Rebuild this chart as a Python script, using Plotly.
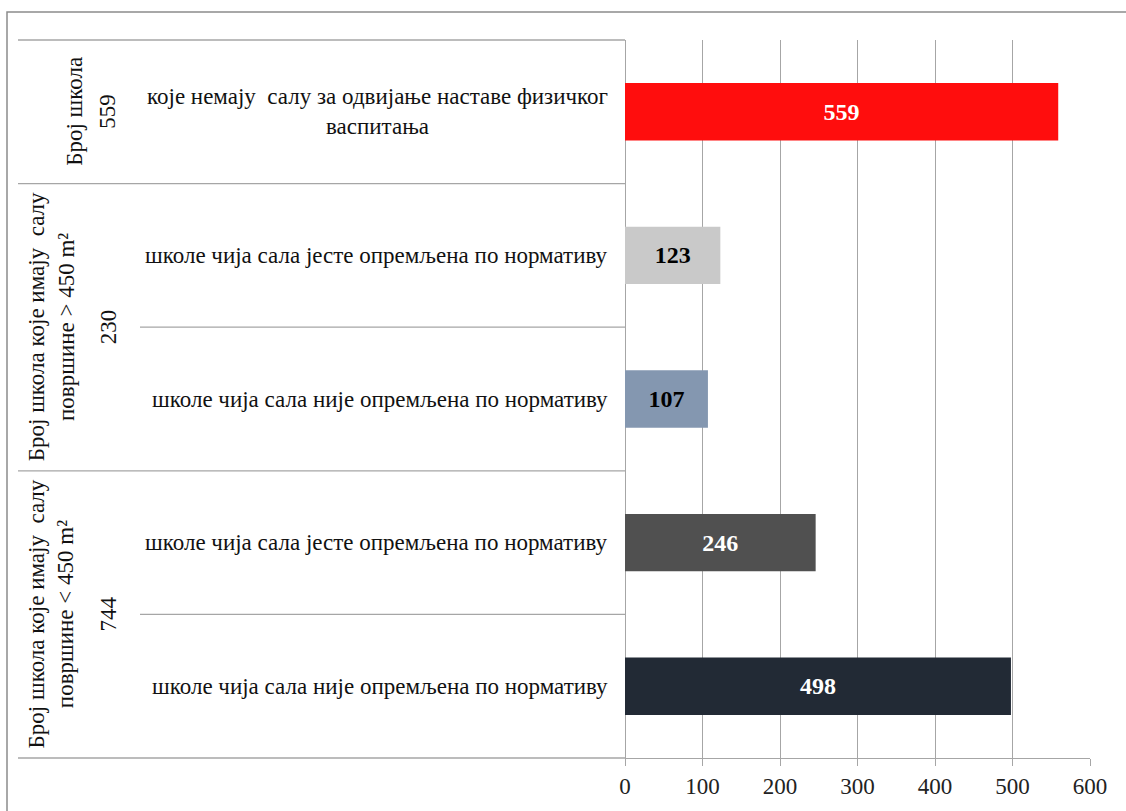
import plotly.graph_objects as go

# data
groups = ["Број школа",
          "Број школа које имају  салу<br>површине &gt; 450 m²",
          "Број школа које имају  салу<br>површине &lt; 450 m²"]
group_totals = [559, 230, 744]
group_sizes = [1, 2, 2]

categories = ["које немају  салу за одвијање наставе физичког<br>васпитања",
              "школе чија сала јесте опремљена по нормативу",
              "школе чија сала није опремљена по нормативу",
              "школе чија сала јесте опремљена по нормативу",
              "школе чија сала није опремљена по нормативу"]
values = [559, 123, 107, 246, 498]
bar_colors = ["#FF0D0D", "#C9C9C9", "#8497B0", "#505050", "#222A35"]
text_colors = ["white", "black", "black", "white", "white"]
x_ticks = [0, 100, 200, 300, 400, 500, 600]

W, H = 1126, 811
L, R, T, B = 625, 36, 40, 51
PW = W - L - R
PH = H - T - B
FONT = "Liberation Serif, Times New Roman, serif"
FS = 23
GRID = "#A6A6A6"


def px(x):
    # pixel x -> paper x
    return (x - L) / PW


def py(y):
    # pixel y -> paper y
    return (H - B - y) / PH


n = len(values)
pos = list(range(n))

fig = go.Figure(go.Bar(
    x=values,
    y=pos,
    orientation='h',
    width=0.4,
    marker=dict(color=bar_colors, line=dict(width=0)),
    text=[f"<b>{v}</b>" for v in values],
    textposition='inside',
    insidetextanchor='middle',
    textangle=0,
    textfont=dict(family=FONT, size=24, color=text_colors),
    hoverinfo='skip',
))

shapes = []
# outer frame
shapes.append(dict(type='rect', xref='paper', yref='paper',
                   x0=px(7), x1=px(1140), y0=py(12), y1=py(830),
                   line=dict(color="#8C8C8C", width=1.5)))

# table lines of the category area
boundaries = [0]
for s in group_sizes:
    start = boundaries[-1]
    for k in range(1, s):
        shapes.append(dict(type='line', xref='paper', yref='paper',
                           x0=px(140), x1=0, y0=1 - (start + k) / n, y1=1 - (start + k) / n,
                           line=dict(color=GRID, width=1.3)))
    boundaries.append(start + s)
for b in boundaries:
    shapes.append(dict(type='line', xref='paper', yref='paper',
                       x0=px(18), x1=0, y0=1 - b / n, y1=1 - b / n,
                       line=dict(color=GRID, width=1.3)))

annotations = []
# category labels
for i, c in enumerate(categories):
    annotations.append(dict(x=px(610), xref='paper', y=i, yref='y', text=c,
                            showarrow=False, xanchor='right', yanchor='middle', align='center',
                            font=dict(family=FONT, size=FS, color='#111111')))

# group labels + totals (rotated)
start = 0
for g, t, s in zip(groups, group_totals, group_sizes):
    mid = start + (s - 1) / 2
    gx = 75 if s == 1 else 51
    annotations.append(dict(x=px(gx), xref='paper', y=mid, yref='y', text=g,
                            showarrow=False, textangle=-90, align='center',
                            xanchor='center', yanchor='middle',
                            font=dict(family=FONT, size=FS, color='#111111')))
    annotations.append(dict(x=px(108), xref='paper', y=mid, yref='y', text=str(t),
                            showarrow=False, textangle=-90,
                            xanchor='center', yanchor='middle',
                            font=dict(family=FONT, size=FS, color='#111111')))
    start += s

fig.update_layout(
    width=W, height=H, autosize=False,
    margin=dict(l=L, r=R, t=T, b=B, pad=0),
    paper_bgcolor='white', plot_bgcolor='white',
    showlegend=False,
    shapes=shapes,
    annotations=annotations,
    xaxis=dict(range=[0, 600], tickvals=x_ticks, showgrid=True, gridcolor=GRID, gridwidth=1.3,
               zeroline=True, zerolinecolor=GRID, zerolinewidth=1.3,
               showline=True, linecolor=GRID, linewidth=1.3,
               ticks='outside', ticklen=7, tickcolor=GRID, tickwidth=1.3,
               tickfont=dict(family=FONT, size=FS, color='#222222'), fixedrange=True),
    yaxis=dict(range=[n - 0.5, -0.5], showticklabels=False, showgrid=False,
               zeroline=False, showline=False, fixedrange=True),
)

fig.write_html("out.html", post_script="document.body.style.margin='0';",
               config={'displayModeBar': False})
